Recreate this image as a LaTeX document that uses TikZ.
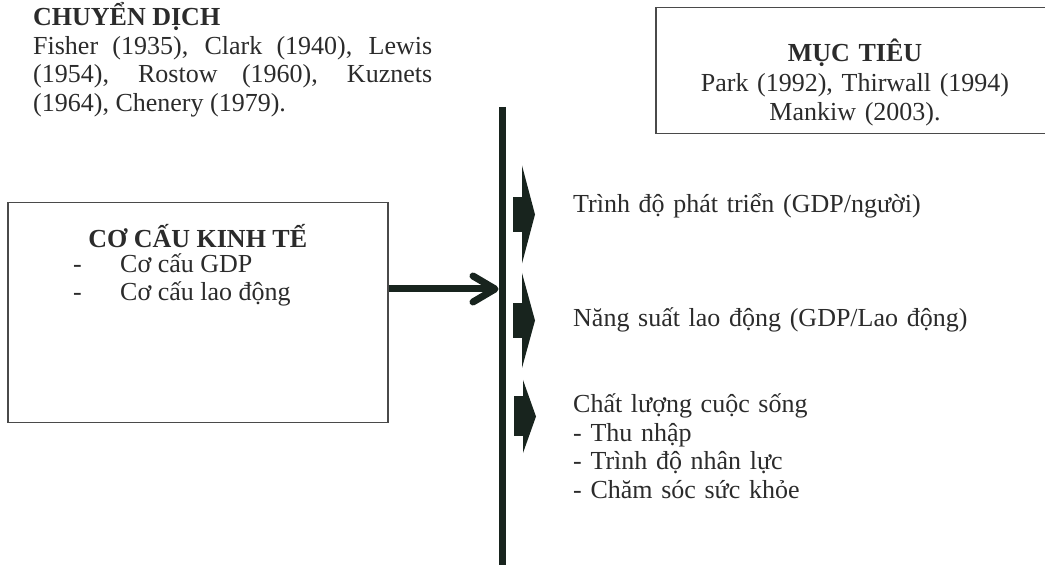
\documentclass[tikz,border=0pt]{standalone}
\usepackage{fontspec}
\setmainfont{Liberation Serif}
\usetikzlibrary{positioning,arrows.meta,calc}
\definecolor{ink}{HTML}{18241E}
\definecolor{txt}{HTML}{2B2B2B}
\definecolor{rim}{HTML}{4A4A4A}

\begin{document}
\begin{tikzpicture}[x=1pt, y=-1pt,
  every node/.style={font=\fontsize{26}{28.5}\selectfont, text=txt, inner sep=0},
  frame/.style={draw=rim, line width=1.5pt},
  axis/.style={draw=ink, line width=7pt},
  flow/.style={draw=ink, line width=7pt, -{Straight Barb[length=22pt, width=26pt, round]}, shorten >=3.5pt},
  item/.style={anchor=base west, text width=460pt, align=left}]
\useasboundingbox (0,0) rectangle (1045,569);
\clip (0,0) rectangle (1045,569);
\newcommand{\blockarrow}[4]{% centre y, half head, half body, x shift
  \fill[ink] (513+#4, #1-#3) rectangle (522+#4, #1+#3);
  \fill[ink] (522+#4, #1-#2) -- (535+#4, #1) -- (522+#4, #1+#2) -- cycle;}

\node[anchor=base west, text width=399pt, align=justify] (chuyendich) at (33,26)
  {\textbf{CHUYỂN DỊCH}\\Fisher (1935), Clark (1940), Lewis\linebreak (1954), Rostow (1960), Kuznets\linebreak (1964), Chenery (1979).};

\node[frame, minimum width=395pt, minimum height=126pt, anchor=north west] (muctieu) at (655,7) {};
\node[anchor=base, text width=380pt, align=center, font=\fontsize{26}{29.5}\selectfont] (muctieutext) at (855,62)
  {\textbf{MỤC TIÊU}\\Park (1992), Thirwall (1994)\\Mankiw (2003).};

\node[frame, minimum width=380pt, minimum height=220pt, anchor=north west] (kt) at (7,202) {};
\node[anchor=base, font=\fontsize{26}{28.5}\bfseries] (kttitle) at ($(kt.north)+(0,46)$) {CƠ CẤU KINH TẾ};
\foreach \t [count=\i] in {Cơ cấu GDP, Cơ cấu lao động}
  \node[anchor=base west] (ktitem\i) at (73, 244+28.5*\i) {\makebox[47pt][l]{-}\t};

\coordinate (axtop) at (502,107);
\coordinate (axbot) at (502,565);
\draw[axis] (axtop) -- (axbot);
\coordinate (src) at ($(kt.north east)+(0,87)$);
\draw[flow] (src) -- (src -| axtop);

\foreach \y/\h/\b/\s in {214.5/49/17.5/0, 320.5/47.5/17.5/0, 416.5/36.5/20/1}
  \blockarrow{\y}{\h}{\b}{\s};

\node[item] (trinhdo) at (573,213) {Trình độ phát triển (GDP/người)};
\node[item] (nangsuat) at (573,327) {Năng suất lao động (GDP/Lao động)};
\node[item] (chatluong) at (573,413) {Chất lượng cuộc sống\\- Thu nhập\\- Trình độ nhân lực\\- Chăm sóc sức khỏe};
\end{tikzpicture}
\end{document}
